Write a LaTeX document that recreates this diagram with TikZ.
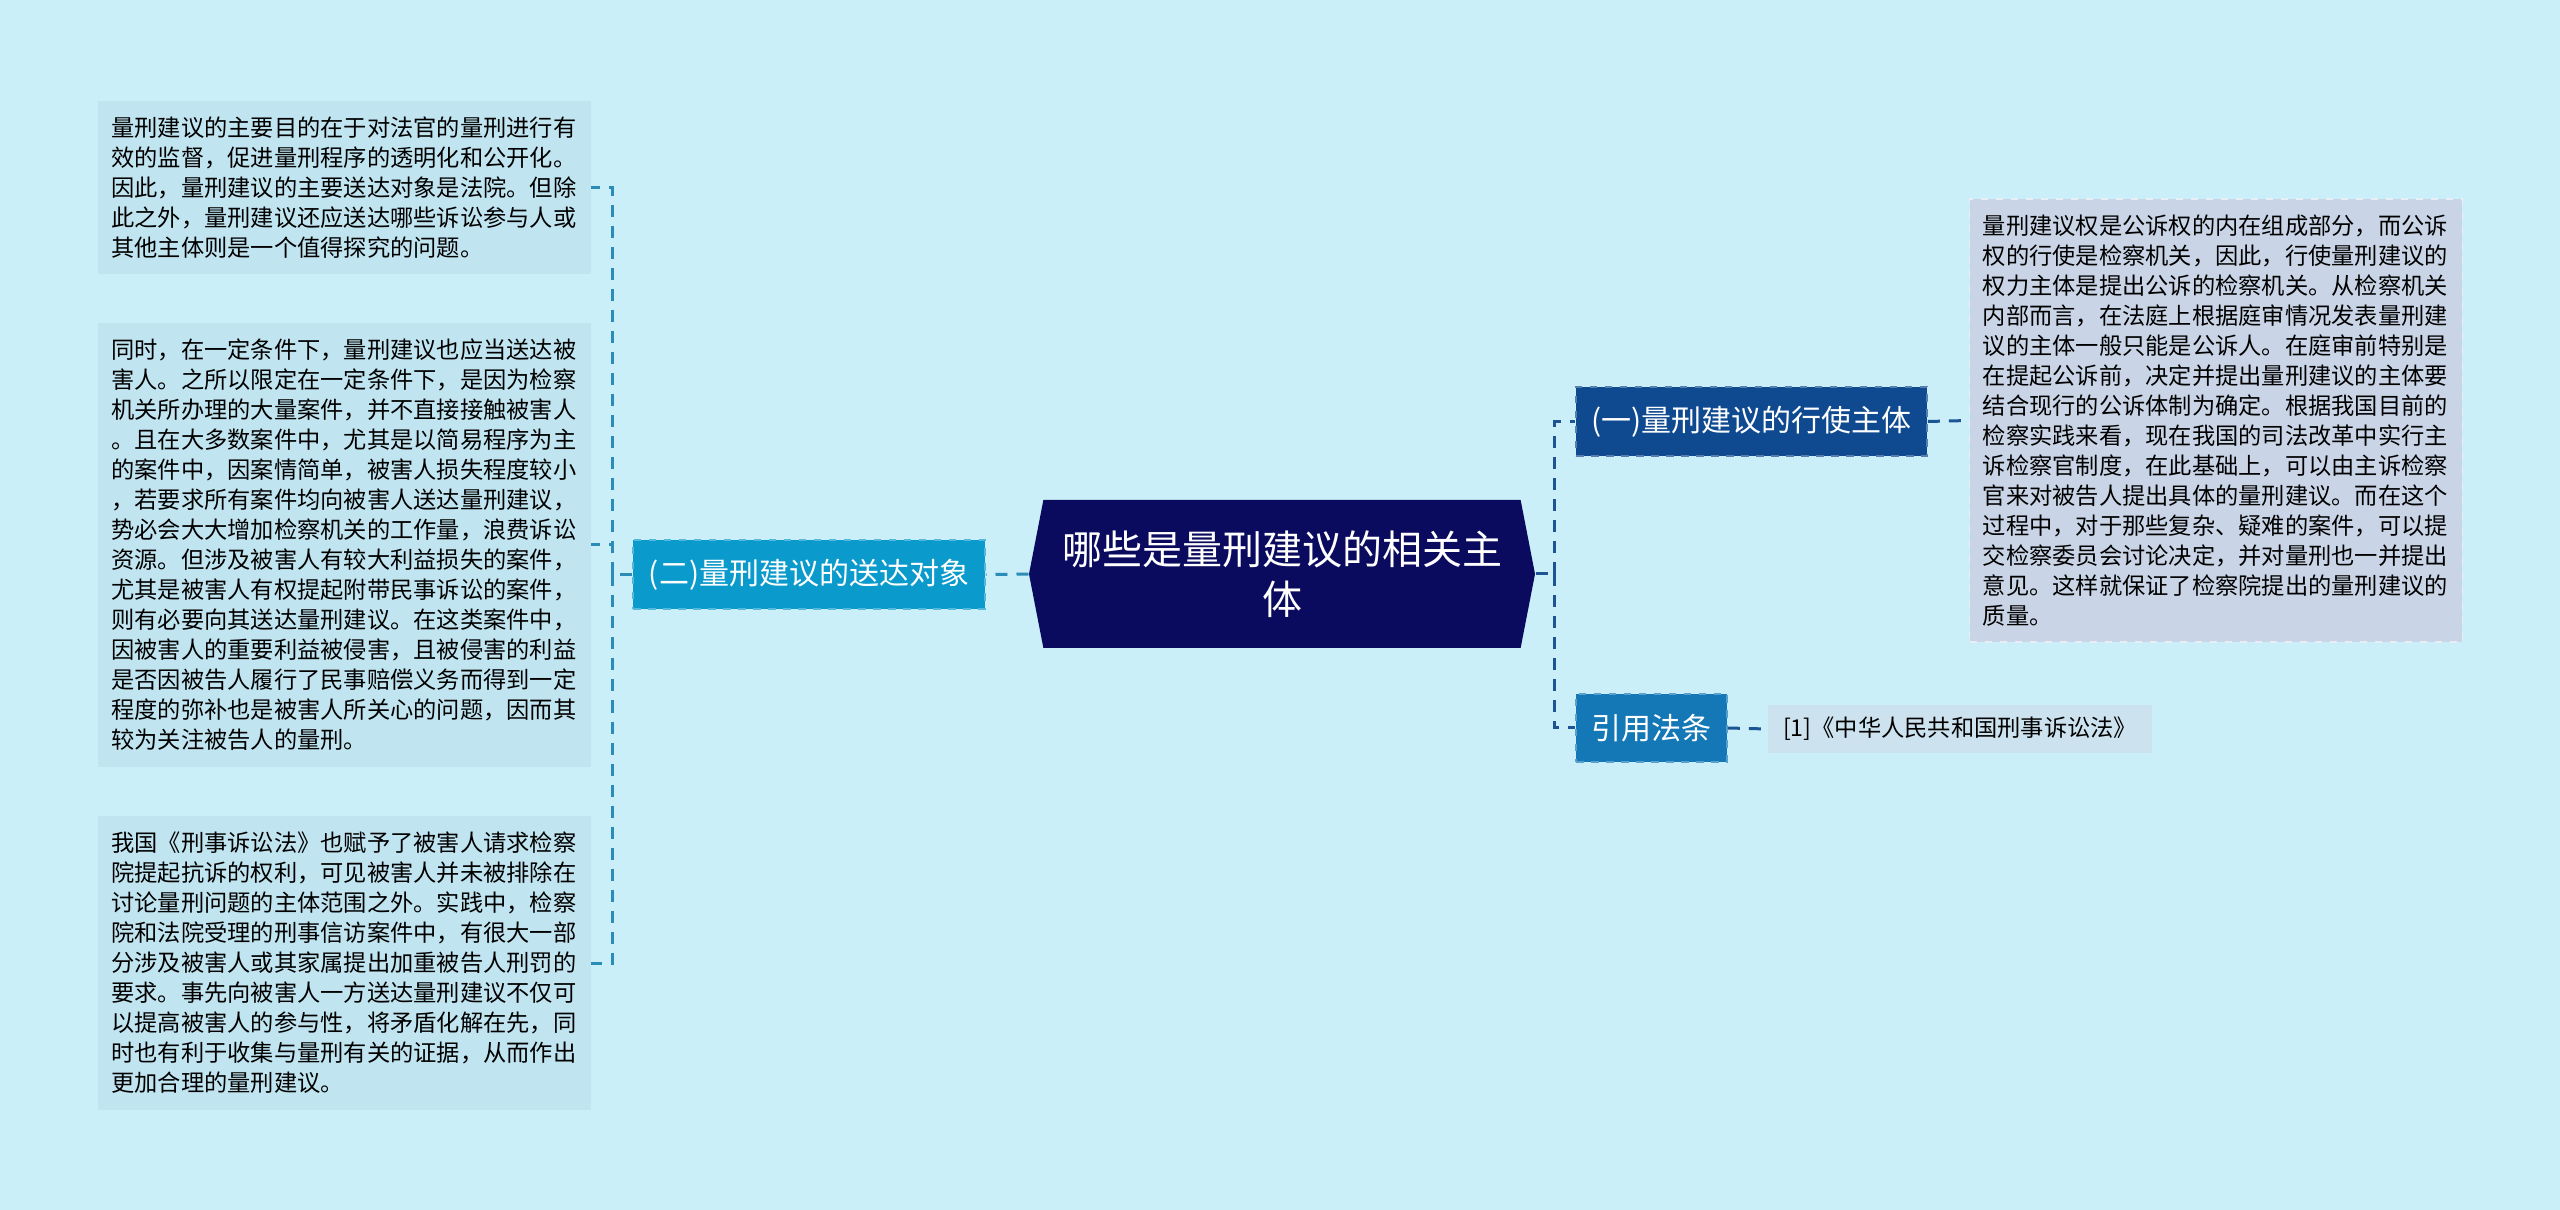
\documentclass[tikz,border=0pt]{standalone}
\usepackage{fontspec}
\setmainfont{Noto Sans CJK SC}
\usetikzlibrary{shapes.symbols}

\definecolor{bgcyan}{HTML}{CBEFF8}
\definecolor{notefill}{HTML}{C0E4F0}
\definecolor{detailfill}{HTML}{C9D5E6}
\definecolor{citefill}{HTML}{CCE2EE}
\definecolor{rootblue}{HTML}{0A0A5E}
\definecolor{sendblue}{HTML}{0A9ACB}
\definecolor{subjblue}{HTML}{0F4A90}
\definecolor{lawblue}{HTML}{1478B6}
\definecolor{leftline}{HTML}{2B8CB8}
\definecolor{rightline}{HTML}{1C5494}

\begin{document}
\begin{tikzpicture}[x=0.4pt, y=-0.4pt,
    note/.style={fill=notefill, align=left, text width=186.5pt, inner xsep=5.3pt, inner ysep=0pt,
        font=\fontsize{9.3pt}{12pt}\selectfont},
    topic/.style={text=white, inner sep=0pt, font=\fontsize{12pt}{14pt}\selectfont, dashed, line width=0.7pt},
    link/.style={dashed, dash pattern=on 4.8pt off 3.6pt, line width=1.2pt}]
    % Background
    \fill[bgcyan] (0,0) rectangle (2560,1210);

    % Nodes
    \node (root) [shape=signal, signal to=west and east, signal pointer angle=158, fill=rootblue, text=white,
        align=center, minimum width=202.4pt, minimum height=59.2pt, inner sep=0pt,
        font=\fontsize{16pt}{20pt}\selectfont] at (1282,574) {哪些是量刑建议的相关主\\体};
    \node (sendto) [topic, fill=sendblue, draw=sendblue!70!white, minimum width=140.8pt, minimum height=27.6pt]
        at (809,574.5) {(二)量刑建议的送达对象};
    \node (subject) [topic, fill=subjblue, draw=subjblue!70!white, minimum width=140.4pt, minimum height=27.6pt]
        at (1751.5,421.5) {(一)量刑建议的行使主体};
    \node (lawref) [topic, fill=lawblue, draw=lawblue!70!white, minimum width=60.4pt, minimum height=27.2pt]
        at (1651.5,728) {引用法条};

    \node (purpose) [note, minimum height=69.2pt] at (344.5,187.5) {量刑建议的主要目的在于对法官的量刑进行有\\
效的监督，促进量刑程序的透明化和公开化。\\
因此，量刑建议的主要送达对象是法院。但除\\
此之外，量刑建议还应送达哪些诉讼参与人或\\
其他主体则是一个值得探究的问题。};
    \node (victim) [note, minimum height=177.6pt] at (344.5,545) {同时，在一定条件下，量刑建议也应当送达被\\
害人。之所以限定在一定条件下，是因为检察\\
机关所办理的大量案件，并不直接接触被害人\\
。且在大多数案件中，尤其是以简易程序为主\\
的案件中，因案情简单，被害人损失程度较小\\
，若要求所有案件均向被害人送达量刑建议，\\
势必会大大增加检察机关的工作量，浪费诉讼\\
资源。但涉及被害人有较大利益损失的案件，\\
尤其是被害人有权提起附带民事诉讼的案件，\\
则有必要向其送达量刑建议。在这类案件中，\\
因被害人的重要利益被侵害，且被侵害的利益\\
是否因被告人履行了民事赔偿义务而得到一定\\
程度的弥补也是被害人所关心的问题，因而其\\
较为关注被告人的量刑。};
    \node (petition) [note, minimum height=117.6pt] at (344.5,963) {我国《刑事诉讼法》也赋予了被害人请求检察\\
院提起抗诉的权利，可见被害人并未被排除在\\
讨论量刑问题的主体范围之外。实践中，检察\\
院和法院受理的刑事信访案件中，有很大一部\\
分涉及被害人或其家属提出加重被告人刑罚的\\
要求。事先向被害人一方送达量刑建议不仅可\\
以提高被害人的参与性，将矛盾化解在先，同\\
时也有利于收集与量刑有关的证据，从而作出\\
更加合理的量刑建议。};

    \node (detail) [note, fill=detailfill, draw=white!60!detailfill, dashed, line width=0.6pt, minimum height=177.2pt]
        at (2216,420.5) {量刑建议权是公诉权的内在组成部分，而公诉\\
权的行使是检察机关，因此，行使量刑建议的\\
权力主体是提出公诉的检察机关。从检察机关\\
内部而言，在法庭上根据庭审情况发表量刑建\\
议的主体一般只能是公诉人。在庭审前特别是\\
在提起公诉前，决定并提出量刑建议的主体要\\
结合现行的公诉体制为确定。根据我国目前的\\
检察实践来看，现在我国的司法改革中实行主\\
诉检察官制度，在此基础上，可以由主诉检察\\
官来对被告人提出具体的量刑建议。而在这个\\
过程中，对于那些复杂、疑难的案件，可以提\\
交检察委员会讨论决定，并对量刑也一并提出\\
意见。这样就保证了检察院提出的量刑建议的\\
质量。};
    \node (cite) [note, fill=citefill, text width=141.6pt, inner xsep=6pt, minimum height=19.2pt]
        at (1960,729) {[1]《中华人民共和国刑事诉讼法》};

    \coordinate (ljoin) at (612,574.5);
    \coordinate (rjoin) at (1554,574);

    % Arrows
    \draw[link, leftline] (root.west) -- (sendto.east);
    \draw[link, leftline] (sendto.west) -- (ljoin);
    \draw[link, leftline] (ljoin) |- (purpose.east);
    \draw[link, leftline] (ljoin) |- (victim.east);
    \draw[link, leftline] (ljoin) |- (petition.east);
    \draw[link, rightline] (root.east) -- (rjoin);
    \draw[link, rightline] (rjoin) |- (subject.west);
    \draw[link, rightline] (rjoin) |- (lawref.west);
    \draw[link, rightline] (subject.east) -- (detail.west);
    \draw[link, rightline] (lawref.east) -- (cite.west);
\end{tikzpicture}
\end{document}
